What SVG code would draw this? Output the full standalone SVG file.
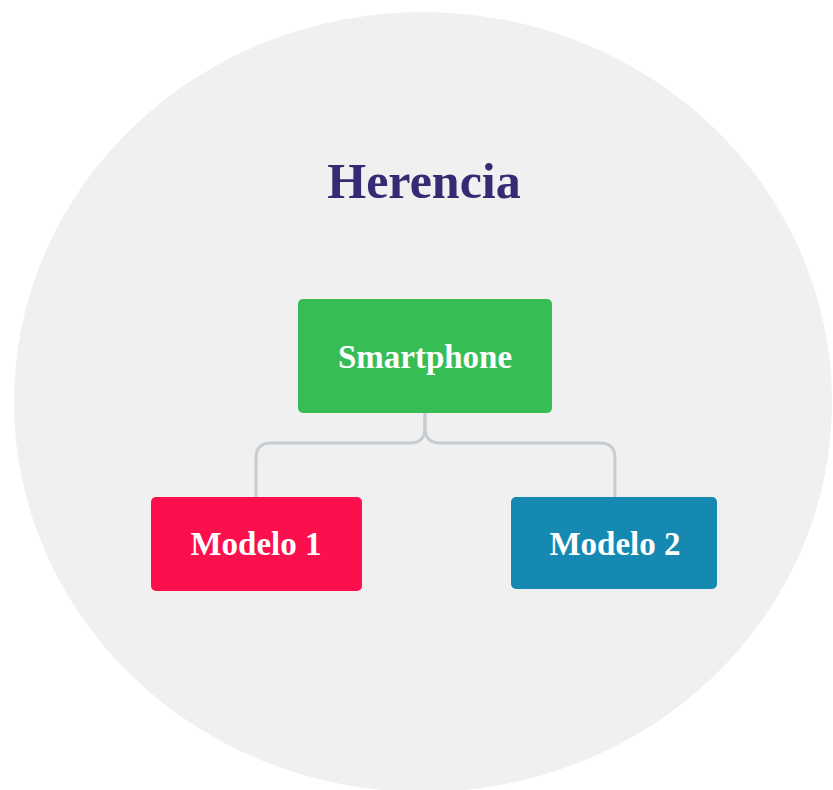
<svg xmlns="http://www.w3.org/2000/svg" width="833" height="790" viewBox="0 0 833 790">
<style>
.lbl{font-family:"Liberation Serif","Times New Roman",serif;font-weight:bold;fill:#ffffff;text-anchor:middle}
.title{font-family:"Liberation Serif","Times New Roman",serif;font-weight:bold;fill:#382a72;text-anchor:middle}
.conn{fill:none;stroke:#c6ccd2;stroke-width:3;stroke-linecap:round}
</style>
<rect width="833" height="790" fill="#ffffff"/>
<ellipse id="background" cx="423" cy="402" rx="409" ry="390" fill="#f0f0f0"/>
<text class="title" x="424" y="198" font-size="50">Herencia</text>
<g id="connectors">
<path class="conn" d="M425,413 V428 Q425,443 410,443 H271 Q256,443 256,458 V497"/>
<path class="conn" d="M425,413 V428 Q425,443 440,443 H600 Q615,443 615,458 V497"/>
</g>
<g id="smartphone">
<rect x="298" y="299" width="254" height="114" rx="5" fill="#37bd55"/>
<text class="lbl" x="425" y="368" font-size="33">Smartphone</text>
</g>
<g id="modelo1">
<rect x="151" y="497" width="211" height="94" rx="5" fill="#fc0f4d"/>
<text class="lbl" x="256" y="555" font-size="33">Modelo 1</text>
</g>
<g id="modelo2">
<rect x="511" y="497" width="206" height="92" rx="5" fill="#1589b1"/>
<text class="lbl" x="615" y="555" font-size="33">Modelo 2</text>
</g>
</svg>
